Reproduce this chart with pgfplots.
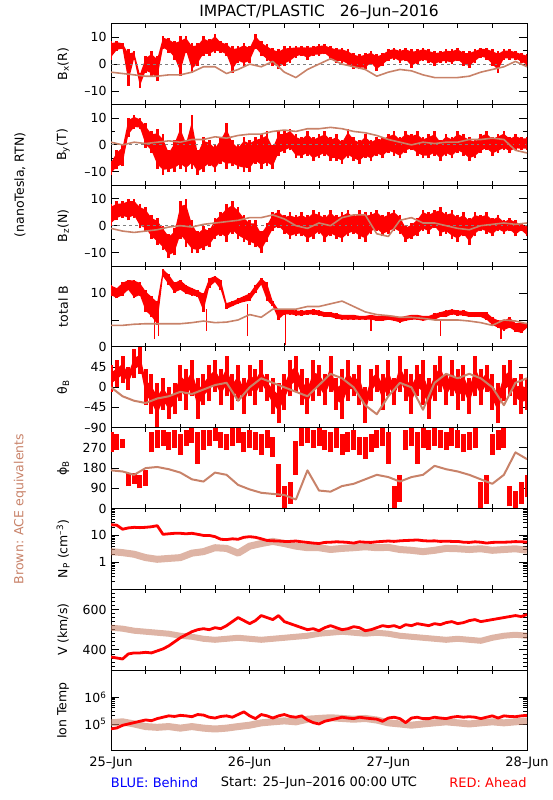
\documentclass[border=0pt]{standalone}
\usepackage{pgfplots}
\usepackage{pgfplotstable}
\pgfplotsset{compat=1.18}
\usepgfplotslibrary{fillbetween}
\usepackage{fontspec}
\setmainfont{DejaVu Sans}
\definecolor{brn}{RGB}{200,130,105}

% ---------- Bx ----------
\pgfplotstableread[row sep=\\]{lo hi\\
1.7 8.6\\ 4.8 8.6\\ 5.5 8.0\\ -8.0 5.5\\ 1.7 4.8\\ -8.8 -3.2\\ -3.2 3.0\\ -4.5 4.8\\ -6.3 3.0\\ 5.5 10.4\\
4.2 9.8\\ 1.7 8.6\\ -4.5 10.4\\ 4.2 10.4\\ -3.2 8.0\\ -0.7 8.0\\ 3.0 10.4\\ 3.0 9.2\\ 4.2 11.1\\ 4.2 8.6\\
3.0 8.0\\ -3.2 6.7\\ 0.5 6.7\\ -0.7 8.0\\ 0.5 6.7\\ 5.5 11.1\\ 3.0 8.6\\ 1.1 7.3\\ -0.7 6.1\\ -2.0 5.5\\
-0.7 6.7\\ 0.5 6.7\\ 2.4 6.7\\ 3.0 6.7\\ 1.7 6.7\\ 3.0 6.7\\ 3.0 7.3\\ 3.6 7.3\\ 1.7 6.7\\ 0.5 6.1\\
0.5 6.1\\ -0.7 5.5\\ -2.0 4.2\\ -2.0 3.6\\ -2.0 4.2\\ -0.1 4.8\\ -2.6 3.6\\ -0.7 4.2\\ 1.1 5.5\\ 1.7 6.1\\
0.5 5.5\\ 1.1 6.1\\ -1.4 5.5\\ -0.1 5.5\\ 1.1 6.1\\ 0.5 5.5\\ -0.7 4.8\\ 0.5 4.8\\ 0.5 5.5\\ -0.1 5.5\\
1.1 6.1\\ -0.7 4.8\\ -1.4 4.8\\ 0.5 5.5\\ 2.4 6.1\\ 1.7 6.1\\ -0.7 5.5\\ -3.2 4.8\\ 1.7 5.5\\ 1.7 5.5\\
1.7 4.8\\ 0.5 4.2\\ -0.7 3.6\\
}\BxR
\pgfplotstableread[row sep=\\]{v\\
-3\\ -3.5\\ -4\\ -4.5\\ -4.5\\ -4\\ -4\\ -3\\ -1\\ -1\\ -3.5\\ -2\\ 0\\ -1\\ 1\\ -3\\ -5\\ -2\\ 0\\ 2\\
0\\ -1\\ -2\\ -4.5\\ -3\\ -2\\ -2.5\\ -4\\ -5\\ -5\\ -5\\ -4.5\\ -3\\ -2\\ -1\\ 1\\ -1\\
}\BxB

% ---------- By ----------
\pgfplotstableread[row sep=\\]{lo hi\\
-11 -6\\ -9 -2\\ -8 0\\ 3 10\\ 6 11\\ 6 10\\ -1 8\\ -3 5\\ -9 6\\ -11 4\\
-10 -2\\ -10 2\\ -9 8\\ -10 2\\ -9 11\\ -11 -2\\ -10 3\\ -8 2\\ -10 0\\ -7 3\\
-9 8\\ -8 2\\ -9 0\\ -10 3\\ -10 2\\ -7 3\\ -9 4\\ -8 5\\ -9 0\\ -4 5\\
-3 5\\ -2 6\\ -5 4\\ -5 3\\ -4 5\\ -6 3\\ -5 4\\ -4 5\\ -6 3\\ -6 4\\
-7 2\\ -5 6\\ -6 3\\ -7 2\\ -5 4\\ -6 2\\ -4 3\\ -5 3\\ -3 4\\ -4 5\\
-5 3\\ -3 5\\ -2 4\\ -4 5\\ -5 3\\ -5 4\\ -4 5\\ -6 2\\ -4 4\\ -5 3\\
-3 5\\ -4 4\\ -6 3\\ -5 2\\ -3 4\\ -2 5\\ -4 3\\ -3 4\\ -2 5\\ -3 3\\
-2 4\\ -2 3\\ -2 3\\
}\ByR
\pgfplotstableread[row sep=\\]{v\\
1\\ 0\\ 1\\ 0.5\\ 1\\ 1.5\\ 1\\ 2\\ 2\\ 3\\ 2.5\\ 3.5\\ 4\\ 4\\ 5\\ 5.5\\ 5\\ 6\\ 6\\ 6.5\\
6\\ 5\\ 4.5\\ 3.5\\ 2\\ 1\\ 0\\ 1\\ 0.5\\ 1\\ 1\\ 2\\ 2\\ 2.5\\ 2\\ -2\\ -3\\
}\ByB

% ---------- Bz ----------
\pgfplotstableread[row sep=\\]{lo hi\\
0 8\\ 2 9\\ 3 9\\ 2 10\\ 3 10\\ -1 8\\ -2 7\\ -5 4\\ -7 3\\ -9 0\\
-12 -3\\ -11 -1\\ -5 9\\ -8 10\\ -10 2\\ -10 -2\\ -9 0\\ -8 -1\\ -5 3\\ -4 5\\
-6 8\\ -3 9\\ -5 7\\ -6 4\\ -7 2\\ -8 2\\ -10 -2\\ -6 1\\ -2 5\\ -1 6\\
-3 4\\ -5 5\\ -4 4\\ -4 5\\ -6 4\\ -5 6\\ -3 5\\ -6 4\\ -4 6\\ -5 4\\
-6 5\\ -4 6\\ -3 4\\ -5 6\\ -6 5\\ -3 5\\ -2 6\\ -4 4\\ -3 5\\ -2 6\\
-3 4\\ -6 0\\ -5 1\\ -4 3\\ -2 6\\ -3 5\\ -1 6\\ -4 7\\ -3 5\\ -5 6\\
-6 4\\ -4 5\\ -7 3\\ -4 5\\ -2 4\\ -3 5\\ -4 3\\ -2 4\\ -3 2\\ -2 3\\
-4 2\\ -2 1\\ -4 0\\
}\BzR
\pgfplotstableread[row sep=\\]{v\\
-1\\ -2\\ -2.5\\ -2\\ -1.5\\ -0.5\\ 0\\ -0.5\\ 0.5\\ 1\\ 1.5\\ 2\\ 3\\ 3\\ 4\\ 2.5\\ 0\\ -1\\ 1\\ 0\\
3\\ 4\\ 4\\ -3\\ -4\\ 2\\ 3\\ 1\\ 1\\ 0\\ -1\\ -1.5\\ 0\\ 0.5\\ 1\\ 0.5\\ 1\\
}\BzB

% ---------- total B ----------
\pgfplotstableread[row sep=\\]{lo hi\\
9.5 11.5\\ 9.0 11.0\\ 9.5 12.0\\ 10.5 12.5\\ 9.0 12.5\\ 9.5 12.0\\ 6.5 10.5\\ 5.5 9.5\\ 4.0 8.5\\ 13.0 14.5\\
11.5 13.5\\ 10.0 12.0\\ 10.5 12.5\\ 9.8 11.5\\ 9.5 11.0\\ 9.3 10.5\\ 6.5 10.0\\ 11.0 12.8\\ 12.0 13.2\\ 10.5 12.5\\
7.0 8.2\\ 7.5 8.5\\ 8.0 9.0\\ 8.3 9.5\\ 8.5 10.0\\ 10.0 11.5\\ 11.5 12.8\\ 8.5 12.0\\ 7.5 8.5\\ 5.0 7.0\\
6.0 7.0\\ 6.0 7.0\\ 5.8 6.8\\ 5.8 6.8\\ 6.0 6.8\\ 6.0 7.0\\ 5.8 6.8\\ 5.5 6.5\\ 5.5 6.5\\ 5.2 6.2\\
5.0 6.0\\ 5.0 6.0\\ 5.0 6.0\\ 5.0 5.8\\ 5.0 5.8\\ 5.0 6.0\\ 4.8 5.8\\ 4.8 5.8\\ 5.0 5.8\\ 4.8 5.8\\
4.5 5.5\\ 4.8 5.8\\ 5.0 6.0\\ 5.0 6.0\\ 4.8 5.8\\ 5.0 5.8\\ 5.0 6.2\\ 5.5 6.5\\ 5.5 6.8\\ 6.0 7.0\\
5.8 6.8\\ 5.8 6.8\\ 5.5 6.5\\ 5.5 6.5\\ 5.5 6.5\\ 5.0 6.5\\ 4.0 5.5\\ 3.5 5.0\\ 3.0 5.0\\ 3.5 5.5\\
2.8 4.5\\ 2.5 4.5\\ 3.5 4.5\\
}\BtR
\pgfplotstableread[row sep=\\]{h lo hi\\
7.5 1.5 6\\ 8.2 2 5\\ 16.5 3 7\\ 23.6 2 8\\ 30.2 0.3 6\\ 45 3 5\\ 57 2 5\\ 67.5 1.5 4\\
}\BtS
\pgfplotstableread[row sep=\\]{v\\
4.0\\ 4.0\\ 4.2\\ 4.3\\ 4.3\\ 4.3\\ 4.3\\ 4.5\\ 4.8\\ 4.5\\ 4.6\\ 5.0\\ 6.0\\ 5.5\\ 7.0\\ 7.0\\ 7.0\\ 7.5\\ 7.5\\ 8.0\\
8.5\\ 7.5\\ 6.5\\ 6.0\\ 5.8\\ 5.5\\ 5.5\\ 5.3\\ 5.0\\ 5.0\\ 5.0\\ 4.8\\ 4.5\\ 4.0\\ 5.0\\ 4.8\\ 4.3\\
}\BtB

% ---------- theta ----------
\pgfplotstableread[row sep=\\]{lo hi\\
-10 50\\ 0 60\\ 10 70\\ -5 45\\ 20 85\\ 30 90\\ -40 40\\ -60 30\\ -90 10\\ -50 20\\
-70 0\\ -60 10\\ -30 50\\ -50 40\\ -20 60\\ -70 20\\ -40 30\\ -30 50\\ -10 60\\ -40 40\\
-20 70\\ -50 30\\ -30 50\\ -60 20\\ -20 50\\ -40 40\\ -10 60\\ -30 30\\ -60 20\\ -80 10\\
-50 30\\ -20 60\\ -10 70\\ -40 40\\ -60 20\\ -30 60\\ -20 50\\ -40 30\\ -10 70\\ -50 20\\
-70 40\\ -30 60\\ -20 30\\ -40 50\\ -80 0\\ -30 40\\ -10 50\\ -50 30\\ -20 60\\ -40 20\\
-10 70\\ -30 40\\ -60 30\\ -20 50\\ -40 60\\ -70 20\\ -30 50\\ -10 70\\ -40 30\\ -20 60\\
-50 40\\ -30 50\\ -60 20\\ -20 70\\ -40 40\\ -10 50\\ -50 30\\ -80 10\\ -30 50\\ -20 60\\
-40 20\\ -60 30\\ -50 20\\
}\ThR
\pgfplotstableread[row sep=\\]{v\\
0\\ -20\\ -30\\ -35\\ -25\\ -20\\ -10\\ -15\\ -5\\ 5\\ 10\\ -30\\ 0\\ 20\\ 10\\ 0\\ -10\\ -20\\ 5\\ 30\\
20\\ 0\\ -40\\ -60\\ -20\\ 10\\ 0\\ -50\\ 10\\ 30\\ 20\\ 30\\ 20\\ 0\\ -40\\ 10\\ 20\\
}\ThB

% ---------- phi ----------
\pgfplotstableread[row sep=\\]{lo hi\\
250 340\\ 260 330\\ 270 310\\ 100 160\\ 110 160\\ 90 150\\ 100 170\\ 250 340\\ 270 350\\ 280 350\\
260 340\\ 270 350\\ 240 330\\ 280 350\\ 290 360\\ 200 340\\ 260 350\\ 280 350\\ 300 360\\ 270 340\\
260 330\\ 280 360\\ 290 360\\ 250 340\\ 270 350\\ 260 340\\ 240 330\\ 270 350\\ 230 320\\ 50 200\\
0 100\\ 20 120\\ 150 300\\ 280 360\\ 290 360\\ 270 350\\ 280 360\\ 260 350\\ 250 340\\ 270 360\\
240 330\\ 250 340\\ 260 350\\ 240 320\\ 220 320\\ 250 330\\ 270 350\\ 280 360\\ 200 340\\ 0 100\\
30 150\\ 260 350\\ 280 360\\ 200 340\\ 270 360\\ 260 350\\ 280 360\\ 270 350\\ 260 340\\ 280 360\\
270 350\\ 250 330\\ 260 340\\ 270 360\\ 0 120\\ 20 150\\ 240 330\\ 260 350\\ 270 360\\ 10 100\\
0 80\\ 20 120\\ 50 150\\
}\PhR
\pgfplotstableread[row sep=\\]{v\\
170\\ 165\\ 150\\ 180\\ 185\\ 175\\ 160\\ 130\\ 120\\ 160\\ 150\\ 105\\ 85\\ 70\\ 65\\ 60\\ 40\\ 170\\ 80\\ 75\\
100\\ 110\\ 130\\ 150\\ 140\\ 120\\ 140\\ 150\\ 190\\ 175\\ 165\\ 150\\ 130\\ 110\\ 150\\ 250\\ 220\\
}\PhB

% ---------- Np ----------
\pgfplotstableread[row sep=\\]{v\\
25\\ 24\\ 17\\ 19\\ 20\\ 19.5\\ 20\\ 21\\ 23\\ 11\\ 11.5\\ 12\\ 12\\ 11.5\\ 12\\ 11\\ 10\\ 10\\ 9\\ 7.2\\
7\\ 7.5\\ 7.2\\ 8.5\\ 9\\ 8.5\\ 7.5\\ 6.5\\ 6.3\\ 6.2\\ 6.0\\ 6.0\\ 6.2\\ 5.8\\ 5.5\\ 5.2\\ 5.0\\ 5.5\\ 5.6\\ 5.8\\
5.7\\ 5.5\\ 5.2\\ 5.8\\ 5.6\\ 5.5\\ 5.8\\ 6.0\\ 6.2\\ 6.0\\ 6.3\\ 6.5\\ 6.6\\ 6.8\\ 6.4\\ 6.2\\ 6.3\\ 6.0\\ 6.1\\ 6.0\\
6.0\\ 5.6\\ 5.5\\ 5.8\\ 5.6\\ 5.2\\ 5.5\\ 5.6\\ 5.6\\ 5.7\\ 5.9\\ 5.8\\ 5.7\\
}\NpR
\pgfplotstableread[row sep=\\]{v\\
2.5\\ 2.3\\ 2.0\\ 1.5\\ 1.3\\ 1.4\\ 1.5\\ 2.2\\ 2.5\\ 3.5\\ 3.3\\ 2.2\\ 4.0\\ 5.0\\ 6.0\\ 5.0\\ 4.0\\ 3.5\\ 3.5\\ 3.0\\
3.3\\ 3.5\\ 3.8\\ 3.5\\ 3.6\\ 3.0\\ 2.8\\ 2.5\\ 2.8\\ 3.3\\ 3.2\\ 3.0\\ 3.2\\ 2.8\\ 3.0\\ 3.2\\ 2.8\\
}\NpB

% ---------- V ----------
\pgfplotstableread[row sep=\\]{v\\
365\\ 360\\ 355\\ 380\\ 385\\ 385\\ 388\\ 385\\ 395\\ 405\\ 420\\ 440\\ 460\\ 475\\ 490\\ 500\\ 505\\ 500\\ 510\\ 505\\
520\\ 540\\ 560\\ 545\\ 530\\ 545\\ 570\\ 560\\ 550\\ 570\\ 540\\ 530\\ 520\\ 510\\ 500\\ 505\\ 495\\ 510\\ 520\\ 510\\
500\\ 505\\ 515\\ 510\\ 495\\ 500\\ 510\\ 520\\ 515\\ 520\\ 510\\ 525\\ 520\\ 530\\ 525\\ 520\\ 530\\ 525\\ 535\\ 540\\
530\\ 535\\ 545\\ 550\\ 540\\ 545\\ 550\\ 555\\ 560\\ 565\\ 570\\ 565\\ 575\\
}\VR
\pgfplotstableread[row sep=\\]{v\\
510\\ 505\\ 495\\ 490\\ 485\\ 480\\ 470\\ 465\\ 455\\ 450\\ 455\\ 460\\ 455\\ 450\\ 455\\ 460\\ 465\\ 470\\ 480\\ 485\\
490\\ 485\\ 480\\ 485\\ 480\\ 470\\ 465\\ 460\\ 455\\ 450\\ 455\\ 450\\ 445\\ 460\\ 470\\ 475\\ 470\\
}\VB

% ---------- T ----------
\pgfplotstableread[row sep=\\]{v\\
6.6e4\\ 7.1e4\\ 8.9e4\\ 1.0e5\\ 1.12e5\\ 1.26e5\\ 1.41e5\\ 1.32e5\\ 1.58e5\\ 1.78e5\\
2.0e5\\ 1.9e5\\ 2.09e5\\ 2.0e5\\ 1.86e5\\ 2.24e5\\ 2.14e5\\ 1.78e5\\ 1.66e5\\ 1.9e5\\
2.0e5\\ 1.78e5\\ 2.24e5\\ 2.82e5\\ 2.0e5\\ 1.58e5\\ 2.24e5\\ 2.0e5\\ 1.66e5\\ 2.0e5\\
2.24e5\\ 1.9e5\\ 1.78e5\\ 2.0e5\\ 1.41e5\\ 1.12e5\\ 1.0e5\\ 1.26e5\\ 1.41e5\\ 1.58e5\\
1.78e5\\ 1.66e5\\ 1.58e5\\ 1.78e5\\ 1.66e5\\ 1.58e5\\ 1.51e5\\ 1.26e5\\ 1.66e5\\ 1.78e5\\
1.58e5\\ 1.12e5\\ 1.66e5\\ 1.78e5\\ 1.58e5\\ 1.58e5\\ 1.78e5\\ 1.66e5\\ 1.58e5\\ 1.78e5\\
1.9e5\\ 1.78e5\\ 1.86e5\\ 1.78e5\\ 1.58e5\\ 1.78e5\\ 2.0e5\\ 1.66e5\\ 2.0e5\\ 1.9e5\\
1.86e5\\ 2.0e5\\ 2.09e5\\
}\TR
\pgfplotstableread[row sep=\\]{v\\
1.1e5\\ 1.2e5\\ 1.0e5\\ 8e4\\ 7.5e4\\ 8e4\\ 7e4\\ 8e4\\ 7e4\\ 6.5e4\\ 7e4\\ 8e4\\ 9e4\\ 1.1e5\\ 1.2e5\\ 1.3e5\\ 1.2e5\\ 1.5e5\\ 1.6e5\\ 1.7e5\\
1.6e5\\ 1.5e5\\ 1.6e5\\ 1.4e5\\ 1.1e5\\ 1.0e5\\ 9e4\\ 1.0e5\\ 1.1e5\\ 1.2e5\\ 1.1e5\\ 1.0e5\\ 1.1e5\\ 1.2e5\\ 1.1e5\\ 1.2e5\\ 1.3e5\\
}\TB

\pgfplotsset{
  panel/.style={
    scale only axis, width=416pt, height=80.8pt, anchor=north west,
    xmin=0, xmax=72,
    xtick={0,24,48,72}, minor xtick={6,12,18,30,36,42,54,60,66}, xticklabels={},
    tick align=inside, major tick length=8pt, minor tick length=4pt,
    xtick style={/pgfplots/major tick length=4pt, /pgfplots/minor tick length=4pt},
    tick style={black, line width=0.8pt},
    axis line style={line width=1pt},
    tick label style={font=\fontsize{12.5}{14}\selectfont},
    yticklabel style={xshift=-1pt},
    every axis y label/.style={at={(axis description cs:-0.115,0.5)}, rotate=90, anchor=center, font=\fontsize{12.5}{14}\selectfont},
  },
  rbar/.style={draw=none, mark=none, error bars/.cd, y dir=plus, y explicit, error mark=none, error bar style={draw=red, line width=#1}},
  rbar/.default=5pt,
  bline/.style={brn, line width=1.6pt, line join=round},
}
\newcommand{\redbars}[2][5pt]{\addplot[rbar=#1] table[x expr=\coordindex, y=lo, y error expr=\thisrow{hi}-\thisrow{lo}] {#2};}
% #1 = inset fraction of the core band, #2 = table
\newcommand{\redband}[2][0.12]{%
  \addplot[draw=none, name path=rlo, forget plot] table[x expr=\coordindex, y expr=\thisrow{lo}+#1*(\thisrow{hi}-\thisrow{lo})] {#2};
  \addplot[draw=none, name path=rhi, forget plot] table[x expr=\coordindex, y expr=\thisrow{hi}-#1*(\thisrow{hi}-\thisrow{lo})] {#2};
  \addplot[fill=red, draw=none] fill between[of=rlo and rhi];
  \redbars[2.6pt]{#2}
}
\newcommand{\brownline}[1]{\addplot[bline] table[x expr=2*\coordindex, y=v] {#1};}
\newcommand{\zeroline}{\addplot[gray, dashed, line width=0.8pt] coordinates {(0,0) (72,0)};}

\begin{document}
\begin{tikzpicture}

% Bx
\begin{axis}[panel, at={(111pt,776.3pt)}, ymin=-15, ymax=15, ytick={-10,0,10}, yticklabels={–10,0,10}, minor ytick={-5,5}, ylabel={B\textsubscript{x}(R)}]
\zeroline
\redband{\BxR}
\brownline{\BxB}
\end{axis}
% By
\begin{axis}[panel, at={(111pt,695.5pt)}, ymin=-15, ymax=15, ytick={-10,0,10}, yticklabels={–10,0,10}, minor ytick={-5,5}, ylabel={B\textsubscript{y}(T)}]
\zeroline
\redband{\ByR}
\brownline{\ByB}
\end{axis}
% Bz
\begin{axis}[panel, at={(111pt,614.7pt)}, ymin=-15, ymax=15, ytick={-10,0,10}, yticklabels={–10,0,10}, minor ytick={-5,5}, ylabel={B\textsubscript{z}(N)}]
\zeroline
\redband{\BzR}
\brownline{\BzB}
\end{axis}
% total B
\begin{axis}[panel, at={(111pt,533.9pt)}, ymin=0, ymax=15, ytick={0,5,10}, yticklabels={0,,10}, ylabel={total B}]
\redband[0.05]{\BtR}
\addplot[rbar=1.5pt] table[x=h, y=lo, y error expr=\thisrow{hi}-\thisrow{lo}] {\BtS};
\brownline{\BtB}
\end{axis}
% theta
\begin{axis}[panel, at={(111pt,453.1pt)}, ymin=-90, ymax=90, ytick={-90,-45,0,45}, yticklabels={–90,–45,0,45}, ylabel={θ\textsubscript{B}}]
\redband[0.3]{\ThR}
\redbars[4pt]{\ThR}
\addplot[bline, line width=2pt] table[x expr=2*\coordindex, y=v] {\ThB};
\end{axis}
% phi
\begin{axis}[panel, at={(111pt,372.3pt)}, ymin=0, ymax=360, ytick={0,90,180,270}, yticklabels={0,90,180,270}, ylabel={ϕ\textsubscript{B}}]
\redbars[5pt]{\PhR}
\addplot[bline, line width=2pt] table[x expr=2*\coordindex, y=v] {\PhB};
\end{axis}
% Np
\begin{axis}[panel, at={(111pt,291.5pt)}, ymode=log, ymin=0.1, ymax=100, ytick={1,10}, yticklabels={1,10},
  minor ytick={0.2,0.3,0.4,0.5,0.6,0.7,0.8,0.9,2,3,4,5,6,7,8,9,20,30,40,50,60,70,80,90},
  ylabel={N\textsubscript{P} (cm\textsuperscript{–3})}]
\addplot[brn, line width=7pt, opacity=0.6, line join=round] table[x expr=2*\coordindex, y=v] {\NpB};
\addplot[red, line width=2.8pt, line join=round] table[x expr=\coordindex, y=v] {\NpR};
\end{axis}
% V
\begin{axis}[panel, at={(111pt,210.7pt)}, ymin=300, ymax=700, ytick={400,600}, yticklabels={400,600},
  minor ytick={320,340,360,380,420,440,460,480,500,520,540,560,580,620,640,660,680},
  ylabel={V (km/s)}]
\addplot[brn, line width=6pt, opacity=0.6, line join=round] table[x expr=2*\coordindex, y=v] {\VB};
\addplot[red, line width=2.8pt, line join=round] table[x expr=\coordindex, y=v] {\VR};
\end{axis}
% T
\begin{axis}[panel, at={(111pt,129.9pt)}, ymode=log, ymin=1e4, ymax=1e7, ytick={1e5,1e6}, yticklabels={10\textsuperscript{5},10\textsuperscript{6}},
  ylabel={Ion Temp}, xticklabels={25–Jun,26–Jun,27–Jun,28–Jun},
  xticklabel style={font=\fontsize{13}{15}\selectfont, yshift=-2pt}]
\addplot[brn, line width=7pt, opacity=0.6, line join=round] table[x expr=2*\coordindex, y=v] {\TB};
\addplot[red, line width=2.8pt, line join=round] table[x expr=\coordindex, y=v] {\TR};
\end{axis}

\node[font=\fontsize{15.5}{18}\selectfont] at (319pt,788pt) {IMPACT/PLASTIC\ \ \ 26–Jun–2016};
\node[rotate=90, font=\fontsize{12.5}{14}\selectfont] at (20pt,615pt) {(nanoTesla, RTN)};
\node[rotate=90, font=\fontsize{12.5}{14}\selectfont, text=brn] at (20pt,291pt) {Brown: ACE equivalents};
\node[font=\fontsize{13}{15}\selectfont, text=blue] at (154.5pt,17pt) {BLUE: Behind};
\node[font=\fontsize{13}{15}\selectfont] at (319pt,17pt) {Start: 25–Jun–2016 00:00 UTC};
\node[font=\fontsize{13}{15}\selectfont, text=red] at (488pt,17pt) {RED: Ahead};
\path (0,0) rectangle (550pt,800pt);
\end{tikzpicture}
\end{document}
